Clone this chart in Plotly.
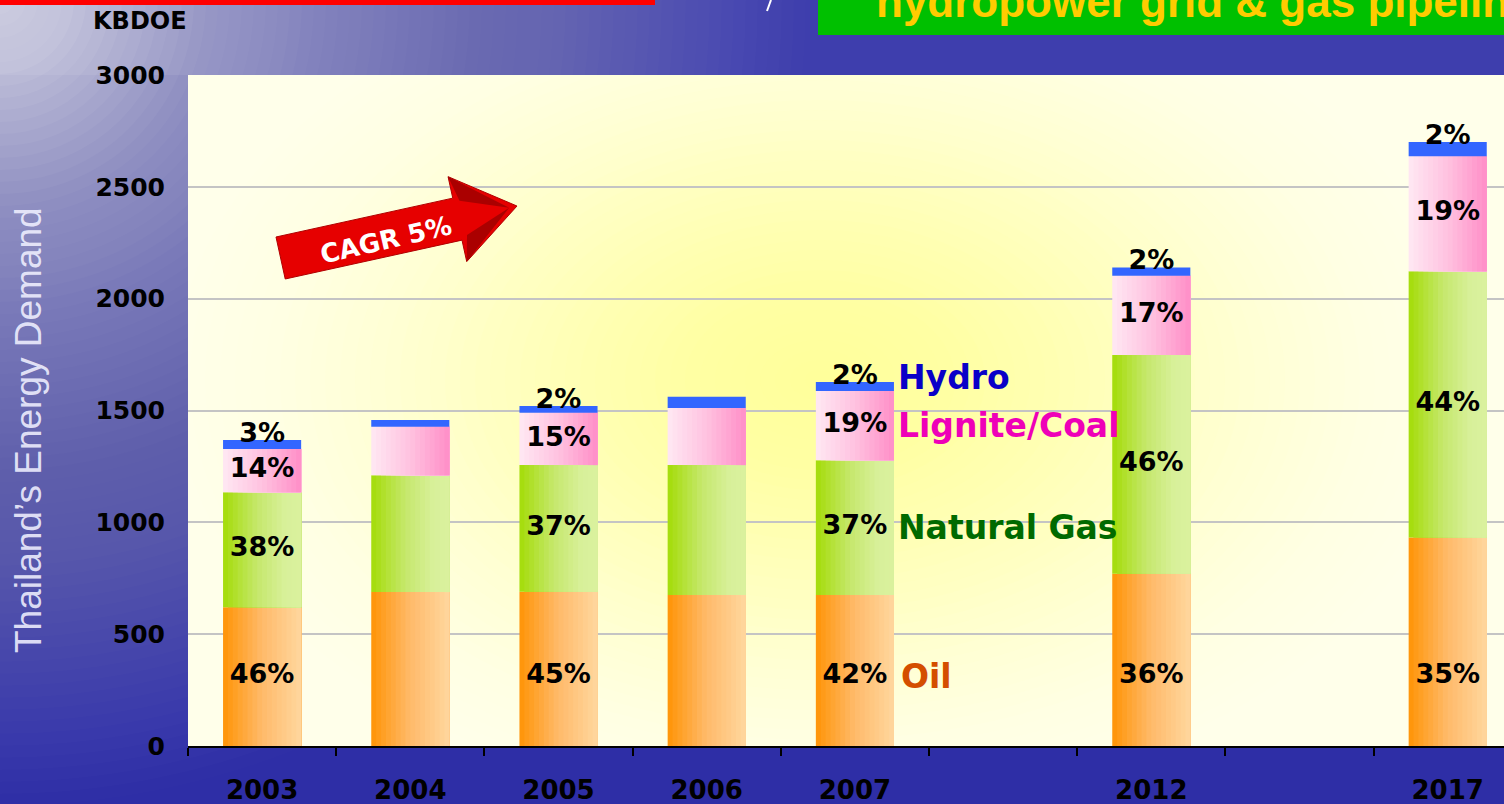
import numpy as np
import plotly.graph_objects as go

# ---------------- data ----------------
years = ["2003", "2004", "2005", "2006", "2007", "2012", "2017"]
categories = ["2003", "2004", "2005", "2006", "2007", " ", "2012", "  ", "2017"]
oil = [620, 688, 690, 675, 675, 770, 932]
gas = [515, 523, 566, 581, 603, 978, 1191]
coal = [193, 216, 234, 255, 309, 354, 514]
hydro = [40, 30, 30, 50, 40, 37, 64]
oil_pct = ["46%", None, "45%", None, "42%", "36%", "35%"]
gas_pct = ["38%", None, "37%", None, "37%", "46%", "44%"]
coal_pct = ["14%", None, "15%", None, "19%", "17%", "19%"]
hydro_pct = ["3%", None, "2%", None, "2%", "2%", "2%"]
series_names = ["Oil", "Natural Gas", "Lignite/Coal", "Hydro"]
y_ticks = [0, 500, 1000, 1500, 2000, 2500, 3000]

# ---------------- geometry ----------------
W, H = 1504, 804
ML, MR, MT, MB = 188, 0, 75, 58
PW, PH = W - ML - MR, H - MT - MB
CAT_PX = 148.2
x_range = [-0.5, -0.5 + PW / CAT_PX]
BAR_W = 0.527
N_SLICES = 16


def px_x(px):
    return (px - ML) / PW


def px_y(py):
    return (H - MB - py) / PH


def hex2rgb(h):
    return tuple(int(h[i:i + 2], 16) for i in (1, 3, 5))


def grad(stops, t):
    pos = [p for p, _ in stops]
    cols = np.array([hex2rgb(c) for _, c in stops], dtype=float)
    r = np.interp(t, pos, cols[:, 0])
    g = np.interp(t, pos, cols[:, 1])
    b = np.interp(t, pos, cols[:, 2])
    return "rgb(%d,%d,%d)" % (round(r), round(g), round(b))


oil_stops = [(0, "#FF9406"), (0.5, "#FFBA6A"), (1, "#FFD79E")]
gas_stops = [(0, "#A4DC08"), (0.45, "#C6E86E"), (0.8, "#D8F09A"), (1, "#DAF19E")]
coal_stops = [(0, "#FFE8F3"), (0.5, "#FFC2E0"), (1, "#FF8EC7")]
hydro_stops = [(0, "#3366FF"), (1, "#3366FF")]

base_gas = [o for o in oil]
base_coal = [o + g for o, g in zip(oil, gas)]
base_hydro = [o + g + c for o, g, c in zip(oil, gas, coal)]
totals = [b + h for b, h in zip(base_hydro, hydro)]


def seg_trace(name, vals, bases, stops, n):
    xs, ys, bs, offs, ws, cols = [], [], [], [], [], []
    for yr, v, b in zip(years, vals, bases):
        for i in range(n):
            xs.append(yr)
            ys.append(v)
            bs.append(b)
            offs.append(-BAR_W / 2 + i * BAR_W / n)
            ws.append(BAR_W * (n - i) / n)
            cols.append(grad(stops, (i + 0.5) / n))
    return go.Bar(x=xs, y=ys, base=bs, offset=offs, width=ws, name=name,
                  marker=dict(color=cols, line=dict(width=0)),
                  showlegend=False, hoverinfo="skip")


fig = go.Figure()
fig.add_trace(seg_trace(series_names[0], oil, [0] * len(oil), oil_stops, N_SLICES))
fig.add_trace(seg_trace(series_names[1], gas, base_gas, gas_stops, N_SLICES))
fig.add_trace(seg_trace(series_names[2], coal, base_coal, coal_stops, N_SLICES))
fig.add_trace(seg_trace(series_names[3], hydro, base_hydro, hydro_stops, 1))

# percentage labels
OIL_ROW = 310
lx, ly, lt = [], [], []
levels = {}
for k, yr in enumerate(years):
    lv = {
        "oil": OIL_ROW,
        "gas": base_gas[k] + gas[k] / 2,
        "coal": base_coal[k] + coal[k] / 2,
        "hydro": totals[k] + 22,
    }
    levels[yr] = lv
    for key, arr in (("oil", oil_pct), ("gas", gas_pct), ("coal", coal_pct), ("hydro", hydro_pct)):
        if arr[k]:
            lx.append(yr)
            ly.append(lv[key])
            lt.append(arr[k])

fig.add_trace(go.Scatter(x=lx, y=ly, text=lt, mode="text", textposition="middle center",
                         textfont=dict(family="DejaVu Sans", size=27, color="black", weight="bold"),
                         showlegend=False, hoverinfo="skip"))

# ---------------- decorations ----------------
shapes = []
# blue water-like background glow from top-left
d_pts = [0, 60, 200, 400, 700, 800, 1000, 1250]
f_pts = [0.82, 0.78, 0.6, 0.42, 0.2, 0.12, 0.05, 0.0]
step = 12
prev = 0.0
for r in np.arange(1250, 0, -step):
    c = float(np.interp(r - step, d_pts, f_pts))
    a = 1 - (1 - c) / (1 - prev)
    prev = c
    if a <= 0:
        continue
    shapes.append(dict(type="circle", xref="paper", yref="paper", layer="below",
                       x0=px_x(-r), x1=px_x(r), y0=px_y(r), y1=px_y(-r),
                       fillcolor="rgba(255,255,255,%.4f)" % a, line=dict(width=0)))
shapes.append(dict(type="rect", xref="paper", yref="paper", layer="below",
                   x0=px_x(0), x1=px_x(W), y0=px_y(MT), y1=px_y(0),
                   fillcolor="rgba(255,255,255,0.08)", line=dict(width=0)))
# plot area background
shapes.append(dict(type="rect", xref="paper", yref="paper", layer="below",
                   x0=0, x1=1, y0=0, y1=1, fillcolor="#FFFFEA", line=dict(width=0)))
# yellow glow in the plot area (clipped by data refs)
gcx, gcy = 820, 380
g_d = [0, 80, 180, 280, 360, 430]
g_f = [0.95, 0.85, 0.55, 0.25, 0.08, 0.0]
prev = 0.0
gstep = 10
for r in np.arange(430, 0, -gstep):
    c = float(np.interp(r - gstep, g_d, g_f))
    a = 1 - (1 - c) / (1 - prev)
    prev = c
    if a <= 0:
        continue
    rx, ry = r * 1.5, r
    shapes.append(dict(type="circle", xref="x", yref="y", layer="below",
                       x0=(gcx - rx - ML) / CAT_PX - 0.5, x1=(gcx + rx - ML) / CAT_PX - 0.5,
                       y0=(H - MB - (gcy + ry)) * 3000 / PH, y1=(H - MB - (gcy - ry)) * 3000 / PH,
                       fillcolor="rgba(255,255,155,%.4f)" % a, line=dict(width=0)))
# red title strip (top-left) and green banner (top-right)
shapes.append(dict(type="rect", xref="paper", yref="paper", layer="above",
                   x0=px_x(0), x1=px_x(655), y0=px_y(5), y1=px_y(-5),
                   fillcolor="#FF0000", line=dict(width=0)))
shapes.append(dict(type="rect", xref="paper", yref="paper", layer="above",
                   x0=px_x(818), x1=px_x(W + 10), y0=px_y(35), y1=px_y(-10),
                   fillcolor="#00C000", line=dict(width=0)))
shapes.append(dict(type="line", xref="paper", yref="paper", layer="above",
                   x0=px_x(771), x1=px_x(767), y0=px_y(0), y1=px_y(11),
                   line=dict(color="white", width=2)))

# CAGR arrow
u = np.array([np.cos(np.radians(12.4)), -np.sin(np.radians(12.4))])
nrm = np.array([0.2147, 0.9767])
tail_top = np.array([276.0, 237.0])
thick, shaft_len, barb, head_len = 43, 181, 22, 61
tail_bot = tail_top + thick * nrm
st_end = tail_top + shaft_len * u
sb_end = tail_bot + shaft_len * u
h_top = st_end - barb * nrm
h_bot = sb_end + barb * nrm
tip = (st_end + sb_end) / 2 + head_len * u


def path_of(points):
    return "M " + " L ".join("%.5f,%.5f" % (px_x(p[0]), px_y(p[1])) for p in points) + " Z"


shapes.append(dict(type="path", xref="paper", yref="paper", layer="above",
                   path=path_of([tail_top, st_end, h_top, tip, h_bot, sb_end, tail_bot]),
                   fillcolor="#E60000", line=dict(color="#B00000", width=1)))
# darker shading on the arrow-head barbs
shapes.append(dict(type="path", xref="paper", yref="paper", layer="above",
                   path=path_of([h_top, st_end + 6 * u + 4 * nrm, tip - 8 * u]),
                   fillcolor="rgba(120,0,0,0.55)", line=dict(width=0)))
shapes.append(dict(type="path", xref="paper", yref="paper", layer="above",
                   path=path_of([h_bot, sb_end + 6 * u - 4 * nrm, tip - 8 * u]),
                   fillcolor="rgba(120,0,0,0.55)", line=dict(width=0)))

annotations = []
annotations.append(dict(text="CAGR 5%", x=px_x(386), y=px_y(240), xref="paper", yref="paper",
                        xanchor="center", yanchor="middle",
                        showarrow=False, textangle=-13,
                        font=dict(family="DejaVu Sans", size=26, color="white", weight="bold")))
annotations.append(dict(text="KBDOE", x=px_x(140), y=px_y(21), xref="paper", yref="paper",
                        xanchor="center", yanchor="middle",
                        showarrow=False, font=dict(family="DejaVu Sans", size=24, color="black", weight="bold")))
annotations.append(dict(text="Thailand\u2019s Energy Demand", x=px_x(29), y=px_y(430),
                        xref="paper", yref="paper", showarrow=False, textangle=-90,
                        xanchor="center", yanchor="middle",
                        font=dict(family="Liberation Sans", size=37, color="rgba(240,240,255,0.9)")))
annotations.append(dict(text="hydropower grid &amp; gas pipelines", x=px_x(874), y=px_y(2),
                        xref="paper", yref="paper", showarrow=False, xanchor="left", yanchor="middle",
                        font=dict(family="Liberation Sans", size=44, color="#FFCC00", weight="bold")))

lab_cols = {"Oil": "#D44E00", "Natural Gas": "#006A00", "Lignite/Coal": "#EE00B8", "Hydro": "#0A00C8"}
lv07 = levels["2007"]
for nm, key in zip(series_names, ["oil", "gas", "coal", "hydro"]):
    annotations.append(dict(text=nm, x=px_x(896 if nm != "Oil" else 899), y=lv07[key],
                            xref="paper", yref="y", showarrow=False, xanchor="left", yanchor="middle",
                            font=dict(family="DejaVu Sans", size=33, color=lab_cols[nm], weight="bold")))

fig.update_layout(
    width=W, height=H,
    margin=dict(l=ML, r=MR, t=MT, b=MB, pad=0),
    paper_bgcolor="#2E2EA6",
    plot_bgcolor="rgba(0,0,0,0)",
    barmode="overlay",
    shapes=shapes,
    annotations=annotations,
    xaxis=dict(type="category", categoryorder="array", categoryarray=categories,
               range=x_range, tickson="boundaries", ticks="outside", ticklen=8, tickwidth=2,
               tickcolor="black", showline=True, linecolor="black", linewidth=2,
               showgrid=False, zeroline=False, ticklabelstandoff=20,
               tickfont=dict(family="DejaVu Sans", size=26, color="black", weight="bold")),
    yaxis=dict(range=[0, 3000], tickvals=y_ticks, showgrid=True, gridcolor="#C4C4C4",
               gridwidth=2, zeroline=False, showline=False, ticks="", ticklabelstandoff=22,
               tickfont=dict(family="DejaVu Sans", size=25, color="black", weight="bold")),
)

fig.write_html("out.html", config={"displayModeBar": False},
               post_script="document.body.style.margin='0';document.body.style.overflow='hidden';")
